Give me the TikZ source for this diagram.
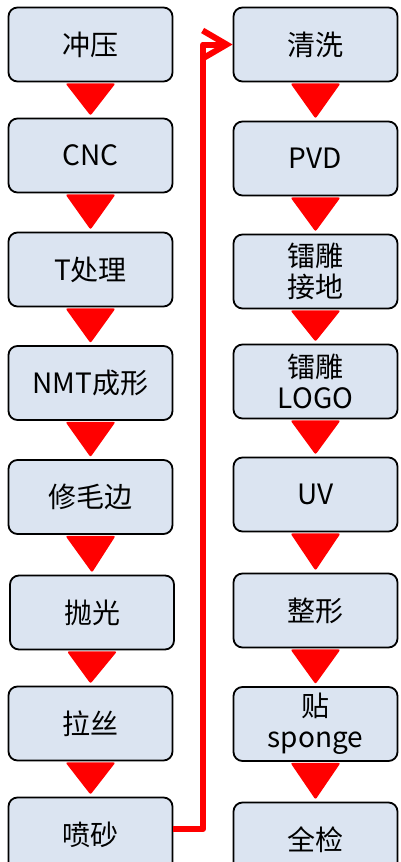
\documentclass[tikz,border=0pt]{standalone}
\usepackage{fontspec}
\setmainfont{Noto Sans CJK SC}
\usetikzlibrary{arrows.meta,calc}
\definecolor{boxfill}{RGB}{219,228,241}
\definecolor{flowred}{RGB}{255,0,0}
\tikzset{
  stepbox/.style={draw=black, line width=1.8pt, fill=boxfill, rounded corners=9pt,
    minimum width=164pt, minimum height=74pt, inner sep=0pt, align=center,
    font=\fontsize{28}{31}\selectfont},
  tri/.style={fill=flowred, rounded corners=2pt},
  link/.style={draw=flowred, line width=6pt, line join=round}
}
\newcommand{\flowtri}[2]{\fill[tri] ($(#1.south)+(-25pt,-1pt)$) -- ($(#1.south)+(25pt,-1pt)$) -- ($(#2.north)+(0,2pt)$) -- cycle;}
\begin{document}
\begin{tikzpicture}[x=1pt,y=-1pt]
\useasboundingbox (0,0) rectangle (401,862);
\node[stepbox] (L1) at (90.5,44.5) {冲压};
\node[stepbox] (L2) at (90.5,155.5) {CNC};
\node[stepbox] (L3) at (90.5,269.5) {T处理};
\node[stepbox] (L4) at (90.5,383) {NMT成形};
\node[stepbox] (L5) at (90.5,497) {修毛边};
\node[stepbox] (L6) at (92,612.5) {抛光};
\node[stepbox] (L7) at (90.5,723.5) {拉丝};
\node[stepbox] (L8) at (90.5,834.5) {喷砂};
\node[stepbox] (R1) at (315.5,44.5) {清洗};
\node[stepbox] (R2) at (315.5,158.5) {PVD};
\node[stepbox] (R3) at (315.5,271.5) {镭雕\\接地};
\node[stepbox] (R4) at (315.5,381.5) {镭雕\\LOGO};
\node[stepbox] (R5) at (315.5,494.5) {UV};
\node[stepbox] (R6) at (315.5,610.5) {整形};
\node[stepbox] (R7) at (315.5,724) {贴\\sponge};
\node[stepbox] (R8) at (315.5,839.5) {全检};
\flowtri{L1}{L2}
\flowtri{L2}{L3}
\flowtri{L3}{L4}
\flowtri{L4}{L5}
\flowtri{L5}{L6}
\flowtri{L6}{L7}
\flowtri{L7}{L8}
\flowtri{R1}{R2}
\flowtri{R2}{R3}
\flowtri{R3}{R4}
\flowtri{R4}{R5}
\flowtri{R5}{R6}
\flowtri{R6}{R7}
\flowtri{R7}{R8}
\coordinate (up) at (203,829);
\coordinate (top) at (203,44.5);
\draw[link, -{Straight Barb[length=24pt,width=28pt,line width=6pt]}] (L8.east |- up) -- (up) -- (top) -- (R1.west);
\end{tikzpicture}
\end{document}
